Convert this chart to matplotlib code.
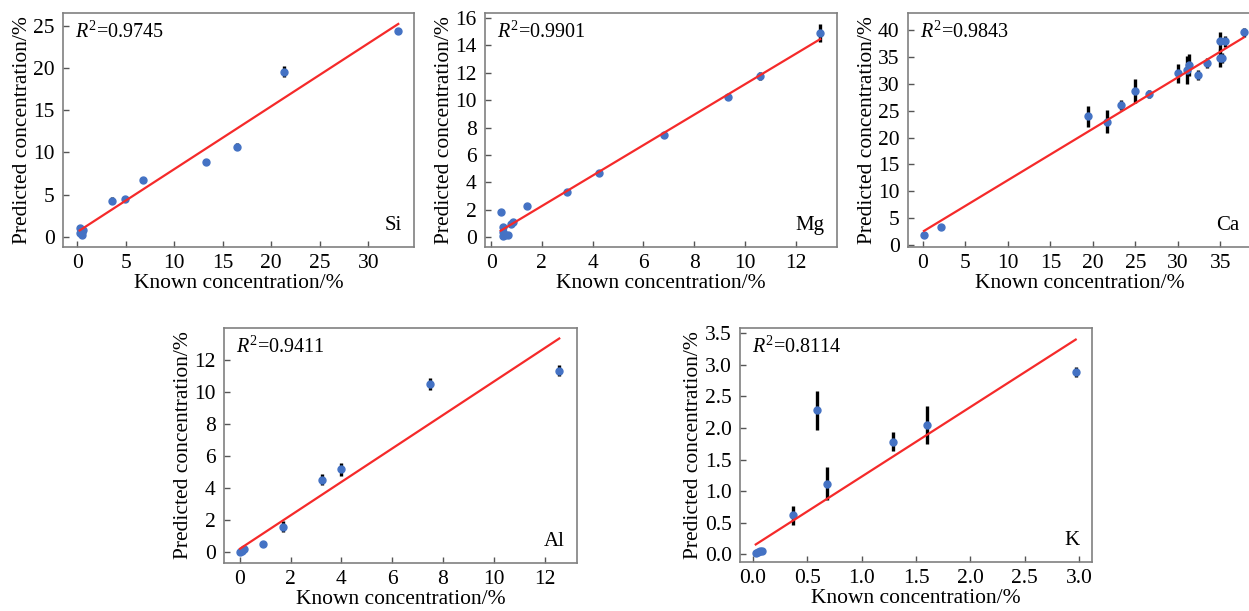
import matplotlib
matplotlib.use('Agg')
import matplotlib.pyplot as plt
import numpy as np

plt.rcParams['font.family'] = ['Liberation Serif', 'DejaVu Serif']
plt.rcParams['mathtext.fontset'] = 'custom'
plt.rcParams['mathtext.rm'] = 'Liberation Serif'
plt.rcParams['mathtext.it'] = 'Liberation Serif:italic'

# Si
si_known = [0.27, 0.51, 0.48, 0.62, 0.34, 3.6, 4.97, 6.82, 13.23, 16.42, 21.36, 33.08]
si_pred = [1.02, 0.59, 0.2, 0.79, 0.47, 4.29, 4.45, 6.73, 8.86, 10.67, 19.57, 24.37]
si_err = [0.1, 0.1, 0.1, 0.1, 0.1, 0.4, 0.2, 0.15, 0.1, 0.4, 0.6, 0.4]
si_fit = [0.745, 0.56]

# Mg
mg_known = [0.38, 0.45, 0.45, 0.55, 0.68, 0.45, 0.78, 0.85, 1.43, 3.01, 4.27, 6.81, 9.32, 10.58, 12.97]
mg_pred = [1.83, 0.71, 0.1, 0.15, 0.12, 0.37, 0.97, 1.12, 2.26, 3.26, 4.70, 7.43, 10.23, 11.79, 14.9]
mg_err = [0.05, 0.05, 0.05, 0.05, 0.05, 0.05, 0.05, 0.1, 0.15, 0.1, 0.1, 0.1, 0.1, 0.3, 0.65]
mg_fit = [1.112, 0.04]

# Ca
ca_known = [0.12, 2.12, 19.41, 21.6, 23.29, 24.9, 26.59, 30.04, 31.1, 31.25, 32.31, 33.45,
            34.9, 34.9, 35.18, 35.5, 37.73]
ca_pred = [1.8, 3.41, 23.94, 22.95, 26.05, 28.65, 28.09, 31.94, 32.56, 33.49, 31.63, 33.92,
           37.9, 34.82, 34.82, 37.9, 39.57]
ca_err = [0.2, 0.2, 1.9, 2.2, 0.9, 2.3, 0.7, 1.8, 2.6, 2.0, 1.0, 0.9, 1.7, 1.7, 1.0, 1.0, 0.9]
ca_fit = [0.958, 2.48]

# Al
al_known = [0.0, 0.08, 0.16, 0.91, 1.68, 3.23, 3.99, 7.48, 12.58]
al_pred = [0.04, 0.1, 0.19, 0.54, 1.6, 4.51, 5.18, 10.48, 11.31]
al_err = [0.05, 0.05, 0.05, 0.05, 0.35, 0.35, 0.4, 0.35, 0.35]
al_fit = [1.041, 0.22]

# K
k_known = [0.025, 0.046, 0.068, 0.08, 0.37, 0.59, 0.68, 1.29, 1.6, 2.97]
k_pred = [0.03, 0.04, 0.05, 0.06, 0.62, 2.28, 1.12, 1.78, 2.05, 2.89]
k_err = [0.01, 0.01, 0.01, 0.01, 0.15, 0.31, 0.26, 0.15, 0.3, 0.08]
k_fit = [1.10, 0.13]

panels = [
    ('Si', '0.9745', si_known, si_pred, si_err, si_fit, (63, 13, 414, 247),
     (-1.45, 34.7), (-1.2, 26.5), np.arange(0, 31, 5), np.arange(0, 26, 5), '{:.0f}', '{:.0f}'),
    ('Mg', '0.9901', mg_known, mg_pred, mg_err, mg_fit, (485, 13, 837, 247),
     (-0.24, 13.63), (-0.73, 16.37), np.arange(0, 13, 2), np.arange(0, 17, 2), '{:.0f}', '{:.0f}'),
    ('Ca', '0.9843', ca_known, ca_pred, ca_err, ca_fit, (908, 13, 1251, 247),
     (-1.76, 38.6), (-0.4, 43.2), np.arange(0, 36, 5), np.arange(0, 41, 5), '{:.0f}', '{:.0f}'),
    ('Al', '0.9411', al_known, al_pred, al_err, al_fit, (224, 328, 577, 563),
     (-0.63, 13.28), (-0.67, 13.97), np.arange(0, 13, 2), np.arange(0, 13, 2), '{:.0f}', '{:.0f}'),
    ('K', '0.8114', k_known, k_pred, k_err, k_fit, (740, 328, 1092, 562),
     (-0.12, 3.12), (-0.12, 3.58), np.arange(0, 3.01, 0.5), np.arange(0, 3.51, 0.5), '{:.1f}', '{:.1f}'),
]

W, H = 1249, 611
fig = plt.figure(figsize=(W / 100, H / 100), dpi=100)

for (name, r2, xk, yp, ye, fit, box, xl, yl, xt, yt, xf, yf) in panels:
    x0, y0, x1, y1 = box
    ax = fig.add_axes([x0 / W, 1 - y1 / H, (x1 - x0) / W, (y1 - y0) / H])
    ax.errorbar(xk, yp, yerr=ye, fmt='none', ecolor='black', elinewidth=2.4, capsize=0, zorder=2)
    ax.plot(xk, yp, 'o', color='#4472C4', markersize=5, zorder=3)
    xs = np.array([min(xk), max(xk)])
    ax.plot(xs, fit[0] * xs + fit[1], color='#f52a2a', linewidth=1.6, zorder=4)
    ax.set_xlim(xl)
    ax.set_ylim(yl)
    ax.set_xticks(xt)
    ax.set_yticks(yt)
    ax.set_xticklabels([xf.format(v) for v in xt])
    ax.set_yticklabels([yf.format(v) for v in yt])
    ax.tick_params(direction='in', length=4, width=1, color='#555555', labelsize=15.5)
    ax.tick_params(axis='y', pad=6)
    ax.tick_params(axis='x', pad=5)
    for s in ax.spines.values():
        s.set_color('#808080')
        s.set_linewidth(1.2)
    ax.set_xlabel('Known concentration/%', fontsize=15.5, labelpad=1)
    ax.set_ylabel('Predicted concentration/%', fontsize=15.5, labelpad=1)
    ax.text(0.035, 0.965, r'$R^2$=' + r2, transform=ax.transAxes, fontsize=14.5,
            ha='left', va='top')
    ax.text(0.965, 0.05, name, transform=ax.transAxes, fontsize=15, ha='right', va='bottom')

fig.savefig('out.png', dpi=100)
